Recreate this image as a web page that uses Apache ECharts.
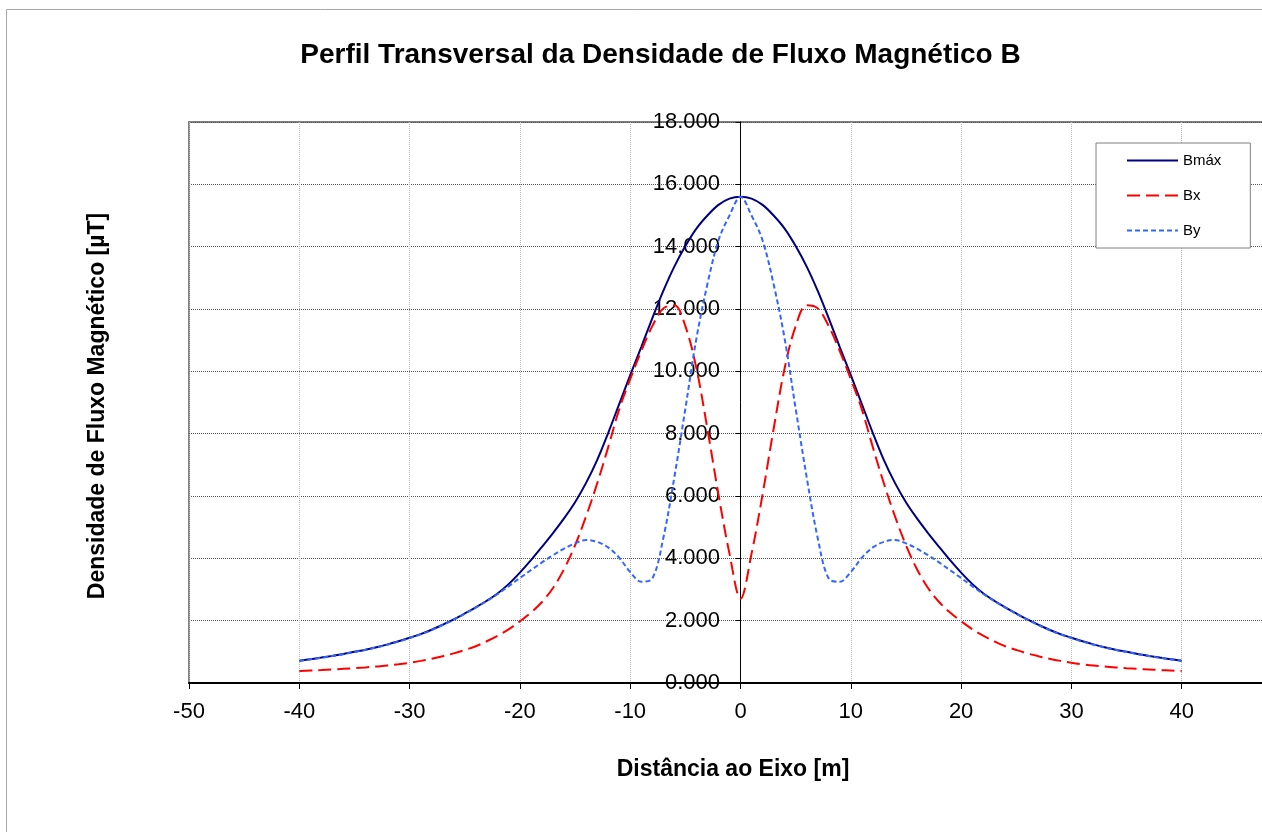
<!DOCTYPE html>
<html>
<head>
<meta charset="utf-8">
<script src="https://cdn.jsdelivr.net/npm/echarts@6/dist/echarts.min.js"></script>
<style>
html,body{margin:0;padding:0;background:#fff;}
#chart{width:1262px;height:832px;}
</style>
</head>
<body>
<div id="chart"></div>
<script>
const titleText = 'Perfil Transversal da Densidade de Fluxo Magnético B';
const xAxisTitle = 'Distância ao Eixo [m]';
const yAxisTitle = 'Densidade de Fluxo Magnético [µT]';
const seriesNames = ['Bmáx', 'Bx', 'By'];

const distance = [-40,-39,-38,-37,-36,-35,-34,-33,-32,-31,-30,-29,-28,-27,-26,-25,-24,-23,-22,-21,
  -20,-19,-18,-17,-16,-15,-14,-13,-12,-11,-10,-9,-8,-7,-6,-5,-4,-3,-2,-1,
  0,1,2,3,4,5,6,7,8,9,10,11,12,13,14,15,16,17,18,19,20,21,22,23,24,25,26,27,28,29,30,
  31,32,33,34,35,36,37,38,39,40];

const bmax = [0.716,0.765,0.815,0.87,0.93,1.00,1.07,1.15,1.24,1.34,1.45,1.57,1.71,1.87,2.04,2.23,2.43,2.64,2.88,3.18,
  3.54,3.94,4.37,4.81,5.28,5.80,6.42,7.15,8.02,8.95,9.88,10.78,11.70,12.58,13.36,14.02,14.58,15.00,15.34,15.54,
  15.60,
  15.54,15.34,15.00,14.58,14.02,13.36,12.58,11.70,10.78,9.88,8.95,8.02,7.15,6.42,5.80,5.28,4.81,4.37,3.94,3.54,
  3.18,2.88,2.64,2.43,2.23,2.04,1.87,1.71,1.57,1.45,1.34,1.24,1.15,1.07,1.00,0.93,0.87,0.815,0.765,0.716];

const bx = [0.385,0.40,0.415,0.435,0.455,0.475,0.50,0.53,0.56,0.60,0.65,0.71,0.78,0.86,0.95,1.06,1.18,1.34,1.52,1.73,
  1.98,2.26,2.60,3.05,3.65,4.42,5.35,6.40,7.56,8.78,9.75,10.65,11.45,12.02,12.12,11.45,10.10,8.15,6.05,4.15,
  2.70,
  4.15,6.05,8.15,10.10,11.45,12.12,12.02,11.45,10.65,9.75,8.78,7.56,6.40,5.35,4.42,3.65,3.05,2.60,2.26,1.98,
  1.73,1.52,1.34,1.18,1.06,0.95,0.86,0.78,0.71,0.65,0.60,0.56,0.53,0.50,0.475,0.455,0.435,0.415,0.40,0.385];

const by = [0.71,0.76,0.81,0.865,0.925,0.995,1.065,1.14,1.23,1.33,1.44,1.56,1.70,1.86,2.03,2.22,2.42,2.63,2.86,3.11,
  3.37,3.62,3.87,4.10,4.31,4.48,4.59,4.53,4.35,4.02,3.56,3.25,3.35,4.65,6.60,8.80,11.05,12.80,14.20,15.00,
  15.60,
  15.00,14.20,12.80,11.05,8.80,6.60,4.65,3.35,3.25,3.56,4.02,4.35,4.53,4.59,4.48,4.31,4.10,3.87,3.62,3.37,
  3.11,2.86,2.63,2.42,2.22,2.03,1.86,1.70,1.56,1.44,1.33,1.23,1.14,1.065,0.995,0.925,0.865,0.81,0.76,0.71];

const pairs = (ys) => distance.map((d, i) => [d, ys[i]]);
const FONT = '"Liberation Sans", Arial, sans-serif';

const chart = echarts.init(document.getElementById('chart'), null, {renderer: 'canvas'});
chart.setOption({
  backgroundColor: '#ffffff',
  animation: false,
  grid: {left: 189, top: 122, right: -3, bottom: 149, show: true, borderColor: '#808080', borderWidth: 2,
    backgroundColor: 'transparent', outerBoundsMode: 'none', containLabel: false},
  legend: {
    data: seriesNames,
    orient: 'vertical',
    left: 1096, top: 143,
    padding: [10, 29, 10, 30],
    itemWidth: 51, itemHeight: 14, itemGap: 20,
    backgroundColor: '#ffffff',
    borderColor: '#808080', borderWidth: 1, borderRadius: 0,
    itemStyle: {opacity: 0},
    textStyle: {fontFamily: FONT, fontSize: 15, color: '#000', lineHeight: 14}
  },
  xAxis: {
    type: 'value', min: -50, max: 47.55, interval: 10,
    axisLine: {onZero: false, lineStyle: {color: '#000', width: 2}},
    axisTick: {show: true, length: 6, lineStyle: {color: '#000', width: 1}},
    axisLabel: {fontFamily: FONT, fontSize: 22, color: '#000', margin: 18,
      formatter: (v) => (Math.abs(v % 10) < 1e-9 ? String(v) : '')},
    splitLine: {show: true, lineStyle: {color: '#b4b4b4', width: 1, type: [1, 1]}}
  },
  yAxis: {
    type: 'value', min: 0, max: 18, interval: 2,
    axisLine: {onZero: true, lineStyle: {color: '#000', width: 1}},
    axisTick: {show: true, length: 5, lineStyle: {color: '#000'}},
    axisLabel: {fontFamily: FONT, fontSize: 22, color: '#000', margin: -531,
      formatter: (v) => v.toFixed(3)},
    splitLine: {show: true, lineStyle: {color: '#555', width: 1, type: [1, 1]}}
  },
  series: [
    {name: seriesNames[0], type: 'line', data: pairs(bmax), smooth: 0.35, symbol: 'none',
      lineStyle: {color: '#000080', width: 2}, itemStyle: {color: '#000080'}},
    {name: seriesNames[1], type: 'line', data: pairs(bx), smooth: 0.35, symbol: 'none',
      lineStyle: {color: '#ff0000', width: 2, type: [13, 6]}, itemStyle: {color: '#ff0000'}},
    {name: seriesNames[2], type: 'line', data: pairs(by), smooth: 0.35, symbol: 'none',
      lineStyle: {color: '#3366ff', width: 2, type: [5, 3]}, itemStyle: {color: '#3366ff'}}
  ],
  graphic: [
    {type: 'rect', silent: true, z: 100, shape: {x: 6.5, y: 9.5, width: 1400, height: 1000},
      style: {fill: 'none', stroke: '#a6a6a6', lineWidth: 1}},
    {type: 'text', x: 660.5, y: 55, style: {text: titleText, font: 'bold 28px ' + FONT, fill: '#000', align: 'center', verticalAlign: 'middle'}},
    {type: 'text', x: 733, y: 770, style: {text: xAxisTitle, font: 'bold 23px ' + FONT, fill: '#000', align: 'center', verticalAlign: 'middle'}},
    {type: 'text', x: 98, y: 406, rotation: Math.PI / 2, style: {text: yAxisTitle, font: 'bold 23px ' + FONT, fill: '#000', align: 'center', verticalAlign: 'middle'}}
  ]
});
</script>
</body>
</html>
